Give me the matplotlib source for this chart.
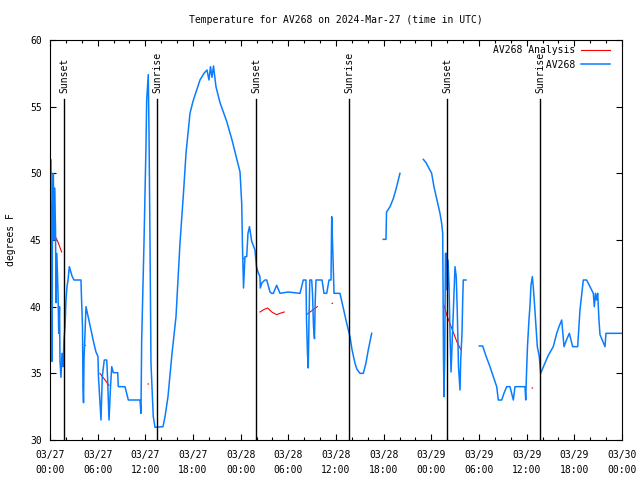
import numpy as np
import matplotlib
matplotlib.use("Agg")
import matplotlib.pyplot as plt

nan = np.nan

# hours since 2024-03-27 00:00 UTC, temperature in F (nan = gap)
obs_hours = [
    0.13, 0.16, 0.25, 0.31, 0.42, 0.50, 0.57, 0.69, 0.76, 0.86, 1.01, 1.10, 1.20, 1.26,
    1.38, 1.51, 1.64, 1.76, 1.89, 2.01, 2.14, 2.27, 2.43, 2.58, 2.77, 3.02, 3.90, 3.96,
    4.09, 4.15, 4.22, 4.28, 4.41, 4.53, 4.78, 5.03, 5.29, 5.54, 5.79, 6.04, 6.10, 6.23,
    6.42, 6.58, 6.83, 7.14, 7.24, 7.43, 7.62, 7.77, 7.97, 8.52, 8.60, 9.44, 9.86, 11.33,
    11.45, 11.54, 11.83, 12.08, 12.17, 12.37, 12.46, 12.59, 12.71, 13.00, 13.22, 14.22,
    14.48, 14.85, 15.36, 15.86, 16.36, 16.80, 17.12, 17.62, 18.00, 18.50, 18.88, 19.38,
    19.76, 20.01, 20.20, 20.39, 20.58, 20.89, 21.40, 22.24, 22.91, 23.54, 23.92, 24.13,
    24.23, 24.36, 24.54, 24.76, 24.92, 25.11, 25.39, 25.80, 25.99, 26.18, 26.43, 26.47,
    26.68, 27.06, 27.28, 27.69, 27.91, 28.11, 28.53, 28.95, 29.96, 31.47, 31.88, 32.22,
    32.29, 32.41, 32.51, 32.60, 32.70, 32.94, 33.04, 33.17, 33.29, 33.39, 33.48, 34.24,
    34.49, 34.83, 35.12, 35.37, 35.46, 35.58, 35.75, 36.50, 36.88, 37.35, 37.76, 38.01,
    38.39, 38.64, 39.02, 39.44, 39.78, 40.06, 40.49, nan,
    41.95, 42.29, 42.36, 42.80, 43.21, 43.55, 44.05, nan,
    46.99, 47.33, 48.04, 48.33, 48.71, 49.09, 49.30, 49.43, 49.47, 49.53, 49.59, 49.68,
    49.78, 49.93, 50.01, 50.10, 50.23, 50.35, 50.48, 50.66, 50.98, 51.14, 51.27, 51.42,
    51.61, 51.70, 51.86, 51.95, 52.02, 52.36, nan,
    54.04, 54.46, 54.88, 55.38, 55.89, 56.23, 56.43, 56.86, 57.14, 57.49, 57.90, 58.32,
    58.53, 59.79, 59.88, 59.98, 60.10, 60.29, 60.42, 60.54, 60.71, 60.83, 60.98, 61.17,
    61.34, 61.59, 61.76, 62.18, 62.68, 63.35, 63.78, 64.07, 64.41, 64.70, 65.01, 65.37,
    65.79, 66.42, 66.71, 67.13, 67.55, 67.97, 68.39, 68.51, 68.66, 68.79, 68.94, 69.10,
    69.23, 69.86, 69.98, 72.0,
]
obs_temps = [
    51.0, 39.6, 35.9, 47.0, 50.0, 45.0, 48.9, 46.0, 40.3, 44.0, 41.0, 38.0, 40.0, 35.9,
    34.7, 36.5, 35.5, 37.5, 38.5, 40.5, 41.5, 42.0, 43.0, 42.7, 42.3, 42.0, 42.0, 40.75,
    38.5, 34.0, 32.8, 36.0, 38.0, 40.0, 39.3, 38.6, 37.9, 37.2, 36.6, 36.25, 34.75, 33.4,
    31.5, 34.75, 36.0, 36.0, 34.75, 31.5, 34.0, 35.5, 35.05, 35.05, 34.0, 34.0, 33.0, 33.0,
    32.0, 37.5, 44.75, 52.0, 55.5, 57.4, 53.25, 44.75, 35.75, 31.75, 30.95, 31.0,
    31.75, 33.25, 36.5, 39.25, 44.75, 48.5, 51.5, 54.5, 55.4, 56.3, 57.0, 57.5,
    57.75, 57.0, 58.0, 57.2, 58.05, 56.5, 55.3, 53.9, 52.5, 51.0, 50.1, 47.75,
    44.5, 41.4, 43.75, 43.75, 45.5, 46.0, 44.9, 44.25, 43.0, 42.6, 42.25, 41.4,
    41.8, 42.0, 42.0, 41.1, 41.0, 41.0, 41.6, 41.0, 41.1, 41.0, 42.0, 42.0,
    39.0, 36.5, 35.4, 39.0, 42.0, 42.0, 41.0, 38.5, 37.6, 40.5, 42.0, 42.0,
    41.0, 41.0, 42.0, 42.0, 46.75, 44.5, 41.0, 41.0, 40.0, 38.75, 37.75, 36.8,
    35.75, 35.3, 35.0, 35.0, 35.8, 36.75, 38.0, nan,
    45.05, 45.05, 47.1, 47.5, 48.1, 48.8, 50.0, nan,
    51.05, 50.8, 50.0, 49.0, 48.0, 47.0, 46.25, 45.5, 42.1, 36.25, 33.25, 36.0,
    44.0, 44.0, 41.25, 43.5, 41.5, 38.0, 35.1, 38.0, 43.0, 42.2, 39.5, 35.5,
    33.75, 36.0, 38.0, 40.5, 42.0, 42.0, nan,
    37.05, 37.05, 36.3, 35.5, 34.6, 34.0, 33.0, 33.0, 33.5, 34.0, 34.0, 33.0,
    34.0, 34.0, 33.0, 35.0, 37.0, 39.0, 40.1, 41.6, 42.25, 41.5, 40.25, 38.5,
    37.0, 36.25, 35.0, 35.6, 36.3, 37.0, 38.0, 38.5, 39.0, 37.0, 37.5, 38.0,
    37.0, 37.0, 39.75, 42.0, 42.0, 41.5, 41.0, 40.0, 41.0, 40.5, 41.0, 39.0,
    37.9, 37.0, 38.0, 38.0,
]

ana_hours = [0.29, 0.63, 0.97, 1.47, nan, 4.38, 4.45, nan, 6.29, 6.80, 7.43, nan,
             12.34, 12.40, nan, 24.39, 24.45, nan,
             26.43, 26.97, 27.40, 27.91, 28.53, 28.95, 29.49, nan,
             32.39, 33.65, nan, 35.50, 35.56, nan,
             49.59, 50.01, 50.69, 51.19, 51.70, nan, 60.68, 60.74]
ana_temps = [45.8, 45.3, 44.9, 44.1, nan, 37.1, 37.1, nan, 35.0, 34.6, 34.1, nan,
             34.2, 34.2, nan, 43.6, 43.6, nan,
             39.6, 39.8, 39.9, 39.6, 39.4, 39.5, 39.6, nan,
             39.45, 40.0, nan, 40.25, 40.25, nan,
             40.1, 39.25, 38.2, 37.4, 36.8, nan, 33.9, 33.9]

sun_hours = [1.80, 13.51, 25.93, 37.64, 50.01, 61.72]
sun_labels = ["Sunset", "Sunrise", "Sunset", "Sunrise", "Sunset", "Sunrise"]

tick_hours = list(range(0, 73, 6))
tick_labels = ["03/27\n00:00", "03/27\n06:00", "03/27\n12:00", "03/27\n18:00",
               "03/28\n00:00", "03/28\n06:00", "03/28\n12:00", "03/28\n18:00",
               "03/29\n00:00", "03/29\n06:00", "03/29\n12:00", "03/29\n18:00",
               "03/30\n00:00"]

plt.rcParams["font.family"] = "DejaVu Sans Mono"
plt.rcParams["font.size"] = 7

fig = plt.figure(figsize=(6.4, 4.8), dpi=100)
ax = fig.add_axes([50 / 640, 40 / 480, 572 / 640, 400 / 480])

ax.plot(ana_hours, ana_temps, color="#ff0000", lw=0.8, label="AV268 Analysis")
ax.plot(obs_hours, obs_temps, color="#0a7dff", lw=1.1, label="         AV268")

trans = ax.get_xaxis_transform()
for h, lab in zip(sun_hours, sun_labels):
    ax.plot([h, h], [0, 0.853], color="black", lw=1.0, transform=trans)
    ax.text(h, 0.868, lab, rotation=90, ha="center", va="bottom", transform=trans)

ax.set_xlim(0, 72)
ax.set_ylim(30, 60)
ax.set_xticks(tick_hours)
ax.set_xticklabels(tick_labels, linespacing=1.6)
ax.set_xticks(range(0, 73, 2), minor=True)
ax.set_yticks(range(30, 61, 5))
ax.tick_params(which="both", direction="in", top=True, right=True, width=0.8)
ax.tick_params(which="major", length=4.5, pad=6)
ax.tick_params(which="minor", length=2.2)
ax.tick_params(axis="x", pad=7)
for s in ax.spines.values():
    s.set_linewidth(0.8)

ax.set_ylabel("degrees F", labelpad=10)
ax.set_title("Temperature for AV268 on 2024-Mar-27 (time in UTC)", fontsize=7, pad=12)

ax.legend(loc="upper right", bbox_to_anchor=(0.989, 1.0), frameon=False,
          markerfirst=False, handlelength=3.0, handletextpad=0.6,
          labelspacing=0.45, borderaxespad=0.15)

plt.savefig("out.png", dpi=100)
